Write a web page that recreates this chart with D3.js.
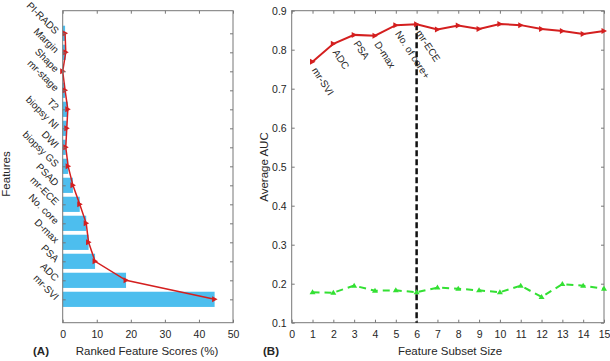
<!DOCTYPE html>
<html lang="en">
<head>
<meta charset="UTF-8" />
<script src="https://d3js.org/d3.v7.min.js"></script>
<style>
  body { margin: 0; background: #fff; }
  text { font-family: "Liberation Sans", Arial, sans-serif; fill: #262626; }
</style>
</head>
<body>
<script>
// (A) ranked feature scores, listed bottom to top
var features = ["mr-SVI", "ADC", "PSA", "D-max", "No. core", "mr-ECE", "PSAD", "biopsy GS",
                "DWI", "biopsy NI", "T2", "mr-stage", "Shape", "Margin", "PI-RADS"];
var scores = [44.6, 18.6, 9.5, 7.6, 6.9, 5.0, 3.0, 1.6, 0.9, 1.2, 1.5, 0.7, 0.0, 0.9, 0.7];
var scoreTicks = [0, 10, 20, 30, 40, 50];

// (B) average AUC vs subset size
var subsetSize = [1, 2, 3, 4, 5, 6, 7, 8, 9, 10, 11, 12, 13, 14, 15];
var aucMain = [0.769, 0.815, 0.838, 0.836, 0.863, 0.865, 0.852, 0.862, 0.853, 0.866, 0.863, 0.853, 0.848, 0.840, 0.848];
var aucLow = [0.178, 0.177, 0.195, 0.182, 0.183, 0.178, 0.190, 0.187, 0.183, 0.178, 0.195, 0.166, 0.199, 0.195, 0.187];
var pointLabels = ["mr-SVI", "ADC", "PSA", "D-max", "No. of core+", "mr-ECE"];
var cutoff = 6;
var aucTicks = [0.1, 0.2, 0.3, 0.4, 0.5, 0.6, 0.7, 0.8, 0.9];

var red = "#d41f1f", blue = "#4dbeee", green = "#33e033";

var svg = d3.select("body").append("svg").attr("width", 610).attr("height", 361);

// ---------- panel A ----------
var xA = d3.scaleLinear().domain([0, 50]).range([62.7, 233]);
var yA = d3.scaleLinear().domain([-0.23, 16.19]).range([322.7, 10.7]);
var idx = d3.range(1, features.length + 1);
var bw = 0.8;

var gA = svg.append("g");
gA.selectAll("rect.bar").data(scores).enter().append("rect")
  .attr("x", xA(0))
  .attr("y", (d, i) => yA(idx[i] + bw / 2))
  .attr("width", d => xA(d) - xA(0))
  .attr("height", yA(0) - yA(bw))
  .attr("fill", blue);

var lineA = d3.line().x(d => xA(d[0])).y(d => yA(d[1]));
var ptsA = scores.map((d, i) => [d, idx[i]]);
gA.append("path").datum(ptsA).attr("d", lineA)
  .attr("fill", "none").attr("stroke", red).attr("stroke-width", 1.5);
// right-pointing triangles
gA.selectAll("path.mk").data(ptsA).enter().append("path")
  .attr("d", "M-2.5,-3L3,0L-2.5,3Z")
  .attr("transform", d => "translate(" + xA(d[0]) + "," + yA(d[1]) + ")")
  .attr("fill", red);

// box
gA.append("rect").attr("x", xA(0)).attr("y", yA(16.19))
  .attr("width", xA(50) - xA(0)).attr("height", yA(-0.23) - yA(16.19))
  .attr("fill", "none").attr("stroke", "#777").attr("stroke-width", 1);

// ticks
gA.append("g").attr("transform", "translate(0," + yA(-0.23) + ")")
  .call(d3.axisBottom(xA).tickValues(scoreTicks).tickSizeInner(-3).tickSizeOuter(0).tickPadding(8))
  .call(g => g.select(".domain").remove());
gA.append("g").attr("transform", "translate(0," + yA(16.19) + ")")
  .call(d3.axisTop(xA).tickValues(scoreTicks).tickSizeInner(-3).tickSizeOuter(0).tickFormat(""))
  .call(g => g.select(".domain").remove());
gA.append("g").attr("transform", "translate(" + xA(50) + ",0)")
  .call(d3.axisRight(yA).tickValues(idx).tickSizeInner(-3).tickSizeOuter(0).tickFormat(""))
  .call(g => g.select(".domain").remove());
gA.append("g").attr("transform", "translate(" + xA(0) + ",0)")
  .call(d3.axisLeft(yA).tickValues(idx).tickSizeInner(-3).tickSizeOuter(0).tickFormat(""))
  .call(g => g.select(".domain").remove());

gA.selectAll("text.flab").data(features).enter().append("text")
  .attr("text-anchor", "end")
  .attr("font-size", 10)
  .attr("transform", (d, i) => "translate(" + (xA(0) - 8) + "," + (yA(idx[i]) + 1.5) + ") rotate(45)")
  .text(d => d);

gA.append("text").attr("font-size", 11.5).attr("text-anchor", "middle")
  .attr("transform", "translate(10,174) rotate(-90)").text("Features");
gA.append("text").attr("font-size", 11.5).attr("text-anchor", "middle")
  .attr("x", 147).attr("y", 355).text("Ranked Feature Scores (%)");
gA.append("text").attr("font-size", 11.5).attr("font-weight", "bold")
  .attr("x", 33).attr("y", 355).text("(A)");

// ---------- panel B ----------
var xB = d3.scaleLinear().domain([0, 15]).range([291.7, 604]);
var yB = d3.scaleLinear().domain([0.1, 0.9]).range([322.7, 10.7]);
var gB = svg.append("g");

gB.append("rect").attr("x", xB(0)).attr("y", yB(0.9))
  .attr("width", xB(15) - xB(0)).attr("height", yB(0.1) - yB(0.9))
  .attr("fill", "none").attr("stroke", "#777").attr("stroke-width", 1);

var xt = d3.range(0, 16);
gB.append("g").attr("transform", "translate(0," + yB(0.1) + ")")
  .call(d3.axisBottom(xB).tickValues(xt).tickSizeInner(-3).tickSizeOuter(0).tickPadding(8))
  .call(g => g.select(".domain").remove());
gB.append("g").attr("transform", "translate(0," + yB(0.9) + ")")
  .call(d3.axisTop(xB).tickValues(xt).tickSizeInner(-3).tickSizeOuter(0).tickFormat(""))
  .call(g => g.select(".domain").remove());
gB.append("g").attr("transform", "translate(" + xB(0) + ",0)")
  .call(d3.axisLeft(yB).tickValues(aucTicks).tickSizeInner(-3).tickSizeOuter(0).tickPadding(5).tickFormat(d3.format(".1f")))
  .call(g => g.select(".domain").remove());
gB.append("g").attr("transform", "translate(" + xB(15) + ",0)")
  .call(d3.axisRight(yB).tickValues(aucTicks).tickSizeInner(-3).tickSizeOuter(0).tickFormat(""))
  .call(g => g.select(".domain").remove());

svg.selectAll(".tick text").attr("font-size", 10.5).attr("fill", "#262626").style("font-family", "Liberation Sans, Arial, sans-serif");
svg.selectAll(".tick line").attr("stroke", "#777");

// cutoff line
gB.append("line")
  .attr("x1", xB(cutoff)).attr("x2", xB(cutoff))
  .attr("y1", yB(aucMain[cutoff - 1])).attr("y2", yB(0.1))
  .attr("stroke", "#111").attr("stroke-width", 2.5).attr("stroke-dasharray", "6,3");

var lineB = d3.line().x((d, i) => xB(subsetSize[i])).y(d => yB(d));

gB.append("path").datum(aucLow).attr("d", lineB)
  .attr("fill", "none").attr("stroke", green).attr("stroke-width", 2).attr("stroke-dasharray", "7,5");
gB.selectAll("path.mkg").data(aucLow).enter().append("path")
  .attr("d", "M-3,2L0,-3L3,2Z")
  .attr("transform", (d, i) => "translate(" + xB(subsetSize[i]) + "," + yB(d) + ")")
  .attr("fill", green);

gB.append("path").datum(aucMain).attr("d", lineB)
  .attr("fill", "none").attr("stroke", red).attr("stroke-width", 2);
gB.selectAll("path.mkr").data(aucMain).enter().append("path")
  .attr("d", "M-2.5,-3L3,0L-2.5,3Z")
  .attr("transform", (d, i) => "translate(" + xB(subsetSize[i]) + "," + yB(d) + ")")
  .attr("fill", red);

gB.selectAll("text.plab").data(pointLabels).enter().append("text")
  .attr("font-size", 10).attr("fill", "#111")
  .attr("transform", (d, i) => "translate(" + (xB(subsetSize[i]) - 1) + "," + (yB(aucMain[i]) + 8.5) + ") rotate(57)")
  .text(d => d);

gB.append("text").attr("font-size", 11.5).attr("text-anchor", "middle")
  .attr("transform", "translate(268,167) rotate(-90)").text("Average AUC");
gB.append("text").attr("font-size", 11.5).attr("text-anchor", "middle")
  .attr("x", 450).attr("y", 355).text("Feature Subset Size");
gB.append("text").attr("font-size", 11.5).attr("font-weight", "bold")
  .attr("x", 263).attr("y", 355).text("(B)");
</script>
</body>
</html>
